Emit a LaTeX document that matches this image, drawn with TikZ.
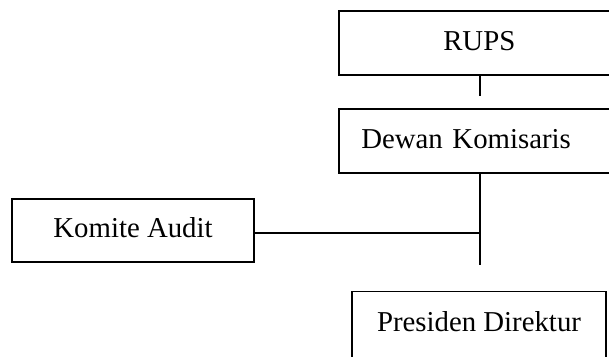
\documentclass[tikz,border=0pt]{standalone}
\usepackage{fontspec}
\setmainfont{Liberation Serif}
\begin{document}
\begin{tikzpicture}[x=1pt, y=-1pt,
  orgbox/.style={draw, line width=1.7pt, rectangle, inner sep=0pt,
    font=\fontsize{28.8}{34}\selectfont,
    text height=21.6pt, text depth=7.2pt},
  link/.style={line width=1.7pt}]
  \useasboundingbox (0,0) rectangle (609,356);
  \clip (0,0) rectangle (609,356);

  % boxes of the chart
  \node[orgbox, minimum width=280pt, minimum height=64pt] (rups) at (479.3,43) {RUPS};
  \node[orgbox, minimum width=280pt, minimum height=64pt, text width=236pt,
        align=left, inner xsep=22pt] (dewan) at (479.3,141) {Dewan Komisaris};
  \node[orgbox, minimum width=242pt, minimum height=63pt] (komite) at (133,230.7) {Komite Audit};
  \node[orgbox, minimum width=254pt, minimum height=66pt] (presiden) at (479,324.5) {Presiden Direktur};

  % connector ends
  \coordinate (j1) at (480.3,95.7);
  \coordinate (j2) at (480.3,265.3);
  \coordinate (j3) at (480.3,232.7);

  \draw[link] (rups.south -| j1) -- (j1);
  \draw[link] (dewan.south -| j2) -- (j2);
  \draw[link] (komite.east |- j3) -- (j3);
\end{tikzpicture}
\end{document}
